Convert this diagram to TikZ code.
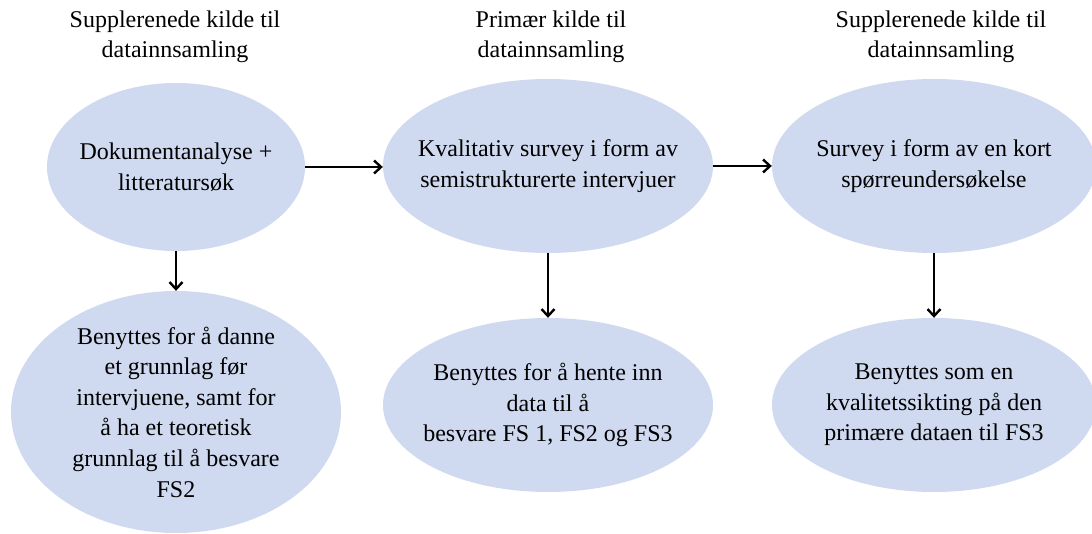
\documentclass[tikz,border=0pt]{standalone}
\usepackage{fontspec}
\setmainfont{Liberation Serif}
\usetikzlibrary{shapes.geometric,arrows.meta}
\definecolor{bubble}{RGB}{207,217,239}
\tikzset{
  bubble/.style={ellipse, fill=bubble, draw=none, inner xsep=-25pt, inner ysep=-25pt,
    align=center, font=\fontsize{24pt}{30.6pt}\selectfont},
  heading/.style={align=center, inner sep=0pt,
    font=\fontsize{24pt}{30pt}\selectfont},
  flow/.style={line width=2.6pt, -{Straight Barb[length=7pt,width=13pt,line width=2.4pt]}}
}
\begin{document}
\begin{tikzpicture}[x=1pt,y=-1pt]
\useasboundingbox (0,0) rectangle (1092,534);
\clip (0,0) rectangle (1092,534);

% column headings
\node[heading] (h1) at (175,37) {Supplerenede kilde til\\datainnsamling};
\node[heading] (h2) at (551,37) {Primær kilde til\\datainnsamling};
\node[heading] (h3) at (941,37) {Supplerenede kilde til\\datainnsamling};

% upper row
\node[bubble, minimum width=258pt, minimum height=168pt] (a1) at (176,167)
  {Dokumentanalyse +\\litteratursøk};
\node[bubble, minimum width=330pt, minimum height=174pt] (a2) at (548,166)
  {Kvalitativ survey i form av\\semistrukturerte intervjuer};
\node[bubble, minimum width=324pt, minimum height=174pt] (a3) at (934,166)
  {Survey i form av en kort\\spørreundersøkelse};

% lower row
\node[bubble, minimum width=330pt, minimum height=242pt] (b1) at (176,412)
  {Benyttes for å danne\\et grunnlag før\\intervjuene, samt for\\å ha et teoretisk\\grunnlag til å besvare\\FS2};
\node[bubble, minimum width=330pt, minimum height=174pt] (b2) at (548,405)
  {Benyttes for å hente inn\\data til å\\besvare FS 1, FS2 og FS3};
\node[bubble, minimum width=324pt, minimum height=174pt] (b3) at (934,405)
  {Benyttes som en\\kvalitetssikting på den\\primære dataen til FS3};

% connectors
\draw[flow] (a1.east) -- (a2.west |- a1.east);
\draw[flow] (a2.east) -- (a3.west);
\draw[flow] (a1.south) -- (b1.north);
\draw[flow] (a2.south) -- (b2.north);
\draw[flow] (a3.south) -- (b3.north);
\end{tikzpicture}
\end{document}
